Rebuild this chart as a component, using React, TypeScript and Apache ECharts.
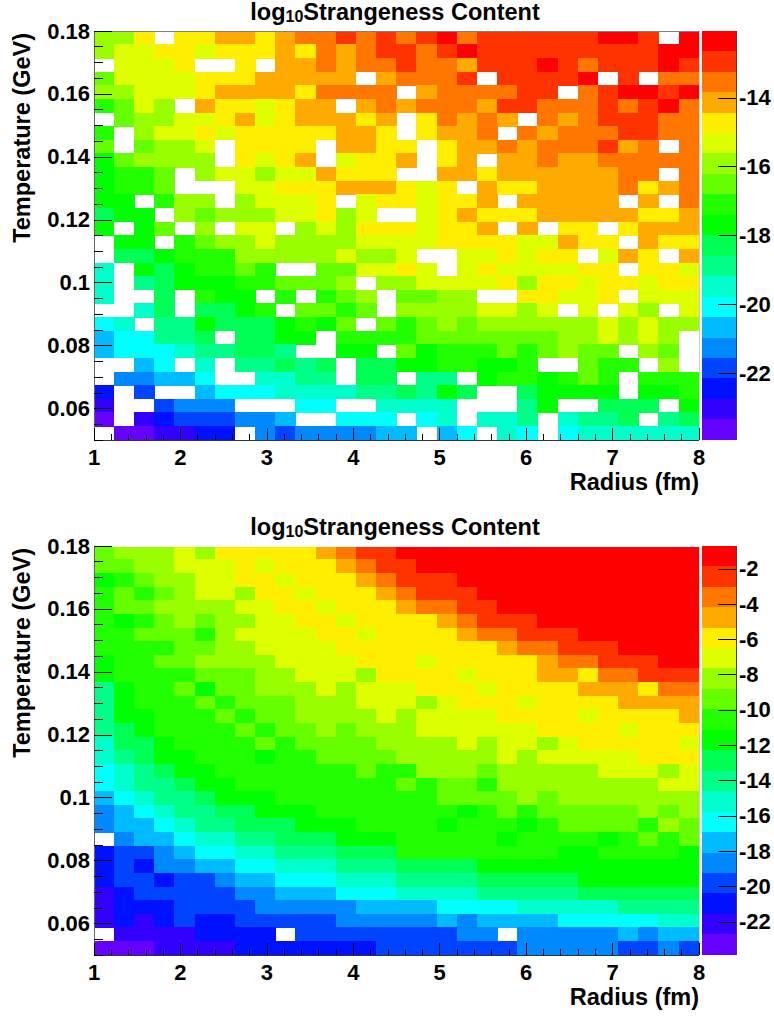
import React, { useEffect, useRef } from "react";
import * as echarts from "echarts";

// Twenty colour bands of the palette, top of the colour bar first.
const bandCodes = "abcdefghijklmnopqrst";
const bandColors = [
  "#ff0000", "#ff3300", "#ff7700", "#ffaa00", "#ffee00", "#ddff00", "#99ff00", "#66ff00", "#22ff00", "#00ff00",
  "#00ff55", "#00ff88", "#00ffcc", "#00ffff", "#00bbff", "#0088ff", "#0044ff", "#0011ff", "#3300ff", "#6600ff",
];

// log10 scale ends
const topScale = { max: -12.06, min: -23.94 };
const bottomScale = { max: -0.71, min: -23.88 };

// One string per temperature row (0.18 GeV down to 0.05 GeV), one letter per radius bin: the band read; "." = empty.
const topRows = [
  "gge.eeddedccbcbcbacbbbbbbaab.a",
  "gffeefeeedecdcbbcbabbbbbbbbbaa",
  ".fffe..e.ddcdccbccdbbbabcbbbab",
  "hffffeeeddddd.dcccb.bbbba.b.cc",
  "ggfffeddddecccc.dccccbb.cbaaba",
  "ihfg.deefedd.dcdcccdbbcccbcbac",
  ".hggffedfeddded.ecdcd.cdcbbbcc",
  "i.gffefeeeeedde.eddc.cdcccbbcc",
  "h.hggf.eeee.ddee.eddcdcccbdc.c",
  "jhgggg.efed.feed.ed.ddcddccccc",
  "jiih.gffgffdeee..ddeddddddcc.c",
  "jiih...ffeeedddefe.deeddddcedc",
  "jj.igg.gfffe.feefeed.ddddd.d.c",
  "kjj.ghgggffegf..fedeeedddddeed",
  "j.jh.g.ff.gfgeeefeed.d.ee.eddd",
  ".jj.ihggfggggffffeeeeffdee.dee",
  ".kkjiiigggggfggf..ffefee.fde.d",
  "m.jkjiihi..hhffef.feffffee.eef",
  "m.lkjjjiihhhg.ggffffegeefeefee",
  "m..k.ijj.i.ihg.hhgg..eeffe.fff",
  "..mk.kkji.hhih.ggggffgf.f.fg.f",
  "nm.lljkkkjijh.hihghggggggfgfgg",
  "onnllk.kkjj.iiiihhhhhhhggfgfg.",
  "onnnmllkkl..jj.hjiiihihghh.gh.",
  "..on.m.llklk.kkjjiijji..hii.g.",
  ".ppoon..mmll.kk.ll.jiijihi.iii",
  "r.q..onnnmmmmllkljk..kjjjj.jji",
  "s..qppp...nn..mmmm...lj..kkk.j",
  "t.srqqqppo..nnn.nm.mml.mllk.lk",
  ".ttssrr.pqppppoo.on.mn.nmmmmmm",
];

const bottomRows = [
  "hgggfgeeeeedcbbaaaaaaaaaaaaaaa",
  "hhggfffefeeedcbbaaaaaaaaaaaaaa",
  "jihggffeefeeedcbbbaaaaaaaaaaaa",
  "ihihgffgeefeeedcbbbaaaaaaaaaaa",
  "ihhggggffeefeeedccbbaaaaaaaaaa",
  "ijihghggffeefeeeedcbbbaaaaaaaa",
  "iihhhigffffeefeeeedccbbbaaaaaa",
  "iiiihhggffffeeeeeeeedccbbbaaaa",
  "jiihhggggffffeeefeeeeedccbbbaa",
  "jiiiihhhggfffgeeeefeeeddeccbbb",
  "ljiihjhhgggfgfffeeefeeeedddecc",
  "ljiiihihhhgggfffgfeeefeeeedddd",
  "ljjiiihihhggggfgffffeeeefeeeed",
  "lkjiiiihihhghgggffffffeeeefeee",
  "mkkjiiiihihhhhggggfgffgfeeeeef",
  "mlkjjiiijiihhhhgggggfgfffffeee",
  "nmlkjjiiiiiiihiigggh" + "gggggfffgf",
  "nmllkjjiiiiiiiihihhiggggggggff",
  "onmllkjjjiiiiiiiihhhhghggggggg",
  "ponmllkkjjjiiiiiiijihihhhhhghg",
  "poonmllkkkjjjiiiijiiijihhhhigh",
  ".poonmmllkkkjjjiiiiijiiiijihih",
  "rqqponnmmlllkkkiiiiiiiijjiiiij",
  "rqrppoonnmmmlllkkkkjjjjjjjjjjj",
  "rqqrqqpoonnnmmmllllkkkkkjjjjjj",
  "srqqqqqppooonnnmmmmlllllkkkkkk",
  "srrrqqqqpppppoooonnnnmmmmmllll",
  "srsrqrrqqqqqpppppopoooonnnnnmm",
  ".ssssrrrr.qqqqqqqqpp.pppppopoo",
  "tttssssrrrrrrrqqqqqqqpppppqqpq",
];

// Axis ticks and labels
const radiusMajor = [1, 2, 3, 4, 5, 6, 7, 8];
const radiusMinor = [
  1.2, 1.4, 1.6, 1.8, 2.2, 2.4, 2.6, 2.8, 3.2, 3.4, 3.6, 3.8, 4.2, 4.4, 4.6, 4.8,
  5.2, 5.4, 5.6, 5.8, 6.2, 6.4, 6.6, 6.8, 7.2, 7.4, 7.6, 7.8,
];
const tempMajor = [0.06, 0.08, 0.1, 0.12, 0.14, 0.16, 0.18];
const tempMinor = [
  0.05, 0.055, 0.065, 0.07, 0.075, 0.085, 0.09, 0.095, 0.105, 0.11, 0.115, 0.125,
  0.13, 0.135, 0.145, 0.15, 0.155, 0.165, 0.17, 0.175,
];
const topBarTicks = [-14, -16, -18, -20, -22];
const bottomBarTicks = [-2, -4, -6, -8, -10, -12, -14, -16, -18, -20, -22];

const FONT = "Liberation Sans";
const titleFs = 23.5;
const subFs = 16;
const labelFs = 22;
const nameFs = 23.5;

function buildPanel(p: {
  rows: string[];
  scale: { max: number; min: number };
  barTicks: number[];
  top: number;
  height: number;
  titleTop: number;
  topFrame: string;
  gi: number; // index of first grid
  xi: number;
  yi: number;
  si: number;
}) {
  const { rows, scale, barTicks, top, height, gi, xi, yi, si } = p;
  const band = (scale.max - scale.min) / bandColors.length;
  const center = (i: number) => scale.max - (i + 0.5) * band;

  const cells: number[][] = [];
  rows.forEach((row, r) => {
    row.split("").forEach((ch, c) => {
      const i = bandCodes.indexOf(ch);
      if (i >= 0) cells.push([c, r, center(i)]);
    });
  });
  const barCells = bandColors.map((_, i) => [0, i, center(i)]);

  const grids = [
    { left: 94, width: 605, top, height },
    { left: 702, width: 34, top, height },
  ];
  const catX = rows[0].split("").map((_, i) => String(i));
  const catY = rows.map((_, i) => String(i));
  const hiddenCat = (gridIndex: number, data: string[], inverse = false) => ({
    type: "category" as const,
    gridIndex,
    data,
    show: false,
    inverse,
  });
  const valueBase = (gridIndex: number, min: number, max: number) => ({
    type: "value" as const,
    gridIndex,
    min,
    max,
    z: 5,
    splitLine: { show: false },
  });
  const xAxes = [
    hiddenCat(gi, catX),
    {
      ...valueBase(gi, 1, 8),
      position: "bottom",
      name: "Radius (fm)",
      nameLocation: "end",
      nameGap: 0,
      nameTextStyle: {
        fontFamily: FONT, fontWeight: "bold", fontSize: nameFs, color: "#000",
        align: "right", verticalAlign: "top", padding: [30, 0, 0, 0],
      },
      axisLine: { show: true, onZero: false, lineStyle: { color: "#333", width: 1 } },
      axisTick: { show: true, inside: true, length: 12, customValues: radiusMajor, lineStyle: { color: "#000" } },
      axisLabel: {
        show: true, margin: 6, customValues: radiusMajor, fontFamily: FONT, fontWeight: "bold",
        fontSize: labelFs, lineHeight: 22, color: "#000", formatter: (v: number) => String(v),
      },
    },
    {
      ...valueBase(gi, 1, 8),
      position: "bottom",
      axisLine: { show: false, onZero: false },
      axisTick: { show: true, inside: true, length: 6, customValues: radiusMinor, lineStyle: { color: "#000" } },
      axisLabel: { show: false },
    },
    {
      ...valueBase(gi, 1, 8),
      position: "top",
      axisLine: { show: true, onZero: false, lineStyle: { color: p.topFrame, width: 1 } },
      axisTick: { show: false },
      axisLabel: { show: false },
    },
    hiddenCat(gi + 1, ["0"]),
  ];
  const yAxes = [
    hiddenCat(gi, catY, true),
    {
      ...valueBase(gi, 0.05, 0.18),
      position: "left",
      name: "Temperature (GeV)",
      nameLocation: "end",
      nameRotate: 90,
      nameGap: -2,
      nameTextStyle: {
        fontFamily: FONT, fontWeight: "bold", fontSize: nameFs, color: "#000",
        align: "right", verticalAlign: "bottom", padding: [0, 0, 60, 0],
      },
      axisLine: { show: true, onZero: false, lineStyle: { color: "#666", width: 1 } },
      axisTick: { show: true, inside: true, length: 18, customValues: tempMajor, lineStyle: { color: "#000" } },
      axisLabel: {
        show: true, margin: 4, customValues: tempMajor, fontFamily: FONT, fontWeight: "bold",
        fontSize: labelFs, color: "#000", padding: [0, 0, 2, 0], formatter: (v: number) => String(v),
      },
    },
    {
      ...valueBase(gi, 0.05, 0.18),
      position: "left",
      axisLine: { show: false, onZero: false },
      axisTick: { show: true, inside: true, length: 9, customValues: tempMinor, lineStyle: { color: "#000" } },
      axisLabel: { show: false },
    },
    {
      ...valueBase(gi, 0.05, 0.18),
      position: "right",
      axisLine: { show: true, onZero: false, lineStyle: { color: "#ccc", width: 1 } },
      axisTick: { show: false },
      axisLabel: { show: false },
    },
    hiddenCat(gi + 1, bandColors.map((_, i) => String(i)), true),
    {
      ...valueBase(gi + 1, scale.min, scale.max),
      position: "right",
      axisLine: { show: true, onZero: false, lineStyle: { color: "#444", width: 1 } },
      axisTick: { show: true, inside: true, length: 18, customValues: barTicks, lineStyle: { color: "#000" } },
      axisLabel: {
        show: true, margin: 3, customValues: barTicks, fontFamily: FONT, fontWeight: "bold",
        fontSize: labelFs, color: "#000", padding: [0, 0, 2, 0], formatter: (v: number) => String(v),
      },
    },
  ];
  const series = [
    {
      type: "heatmap", xAxisIndex: xi, yAxisIndex: yi, data: cells, silent: true,
      itemStyle: { borderWidth: 0 }, emphasis: { disabled: true }, progressive: 0,
    },
    {
      type: "heatmap", xAxisIndex: xi + 4, yAxisIndex: yi + 4, data: barCells, silent: true,
      itemStyle: { borderWidth: 0 }, emphasis: { disabled: true }, progressive: 0,
    },
  ];
  const visualMap = {
    type: "piecewise",
    show: false,
    seriesIndex: [si, si + 1],
    dimension: 2,
    pieces: bandColors.map((color, i) => ({
      gt: scale.max - (i + 1) * band,
      lte: scale.max - i * band,
      color,
    })),
  };
  const title = {
    text: "{a|log}{s|10}{a|Strangeness Content}",
    left: 395,
    top: p.titleTop,
    padding: 0,
    textAlign: "center",
    textStyle: {
      rich: {
        a: { fontFamily: FONT, fontWeight: "bold", fontSize: titleFs, color: "#000", lineHeight: 24 },
        s: { fontFamily: FONT, fontWeight: "bold", fontSize: subFs, color: "#000", lineHeight: 24, verticalAlign: "bottom", padding: [7, 0, 0, 0] },
      },
    },
  };
  return { grids, xAxes, yAxes, series, visualMap, title };
}

export default function App() {
  const ref = useRef<HTMLDivElement>(null);
  useEffect(() => {
    document.body.style.margin = "0";
    const chart = echarts.init(ref.current!, undefined, { renderer: "svg" });
    const a = buildPanel({
      rows: topRows, scale: topScale, barTicks: topBarTicks, top: 31, height: 409, titleTop: 0,
      topFrame: "#808080", gi: 0, xi: 0, yi: 0, si: 0,
    });
    const b = buildPanel({
      rows: bottomRows, scale: bottomScale, barTicks: bottomBarTicks, top: 546, height: 409, titleTop: 515,
      topFrame: "#ffffff", gi: 2, xi: 5, yi: 6, si: 2,
    });
    chart.setOption({
      animation: false,
      backgroundColor: "#fff",
      title: [a.title, b.title],
      grid: [...a.grids, ...b.grids],
      xAxis: [...a.xAxes, ...b.xAxes],
      yAxis: [...a.yAxes, ...b.yAxes],
      visualMap: [a.visualMap, b.visualMap],
      series: [...a.series, ...b.series],
    });
    return () => chart.dispose();
  }, []);
  return (
    <>
      <style>{"svg path { shape-rendering: crispEdges; }"}</style>
      <div ref={ref} style={{ width: 774, height: 1017 }} />
    </>
  );
}
